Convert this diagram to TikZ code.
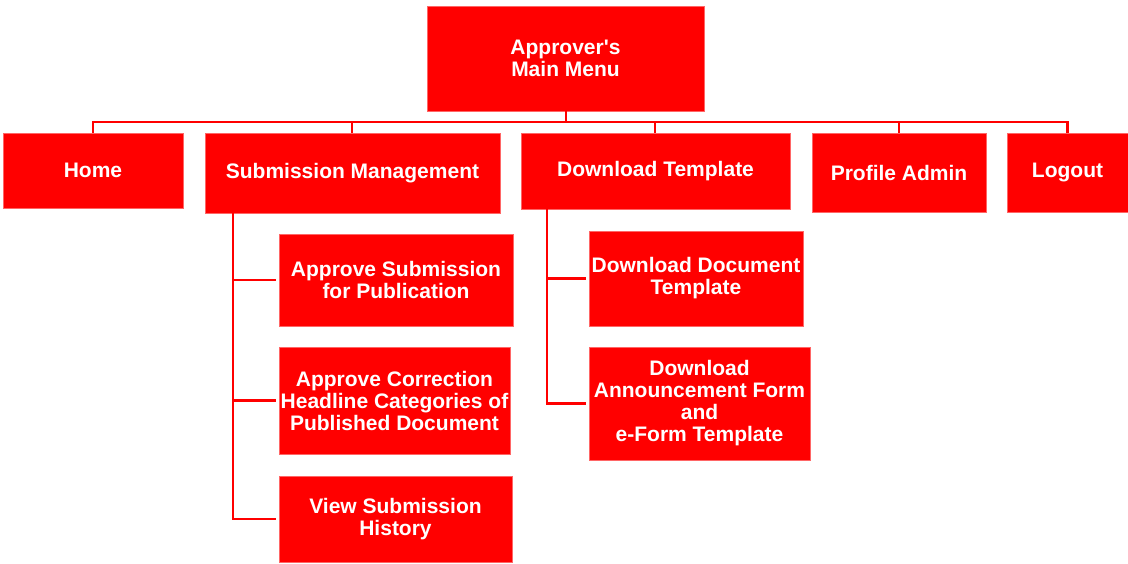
\documentclass[tikz,border=0pt]{standalone}
\usepackage{fontspec}
\setmainfont{Liberation Sans}
\begin{document}
\begin{tikzpicture}[x=1pt,y=-1pt,
  box/.style={fill=red, draw=red!60, line width=0.6pt, text=white, inner sep=0pt, align=center,
    font=\fontsize{21}{22}\selectfont\bfseries},
  conn/.style={draw=red, line width=2.6pt}]
\useasboundingbox (0,0) rectangle (1128,563);
\node[box, minimum width=277pt, minimum height=105pt] (main) at (565.5,58.5) {Approver\textquotesingle s\\Main Menu};
\node[box, minimum width=180pt, minimum height=75pt] (home) at (93,170.5) {Home};
\node[box, minimum width=295pt, minimum height=80pt] (sub) at (352.5,173) {Submission Management};
\node[box, minimum width=269pt, minimum height=76pt] (dl) at (655.5,171) {Download Template};
\node[box, minimum width=174pt, minimum height=79pt] (prof) at (899,172.5) {Profile Admin};
\node[box, minimum width=121pt, minimum height=79pt] (logout) at (1067.5,172.5) {Logout};
\node[box, minimum width=234pt, minimum height=92pt] (asub) at (396,280) {Approve Submission\\for Publication};
\node[box, minimum width=231pt, minimum height=107pt] (acorr) at (394.5,400.5) {Approve Correction\\Headline Categories of\\Published Document};
\node[box, minimum width=233pt, minimum height=86pt] (hist) at (395.5,519) {View Submission\\History};
\node[box, minimum width=214pt, minimum height=95pt] (ddoc) at (696,278.5) {Download Document\\Template};
\node[box, minimum width=221pt, minimum height=113pt] (dann) at (699.5,403.5) {Download\\Announcement Form\\and\\e-Form Template};
\coordinate (bus) at (566,122);
\coordinate (sv) at (233,0);
\coordinate (dv) at (547,0);
\draw[conn] (main.south -| bus) -- (bus);
\draw[conn] (home.north) |- (bus) -| (logout.north);
\draw[conn] (sub.north -| 352,0) -- (bus -| 352,0);
\draw[conn] (dl.north -| 655,0) -- (bus -| 655,0);
\draw[conn] (prof.north) -- (prof.north |- bus);
\draw[conn] (sv |- sub.south) |- ([xshift=-3pt]hist.west);
\draw[conn] (sv |- asub.west) -- ([xshift=-3pt]asub.west);
\draw[conn] (sv |- acorr.west) -- ([xshift=-3pt]acorr.west);
\draw[conn] (dv |- dl.south) |- ([xshift=-3pt]dann.west);
\draw[conn] (dv |- ddoc.west) -- ([xshift=-3pt]ddoc.west);
\end{tikzpicture}
\end{document}
